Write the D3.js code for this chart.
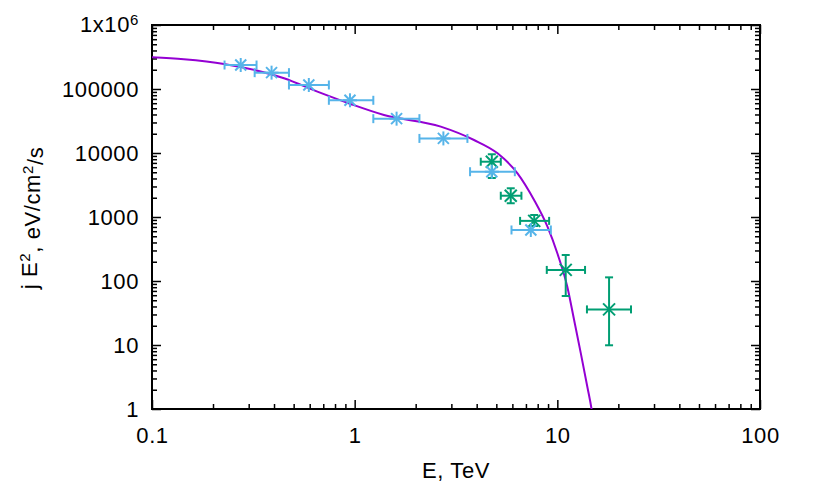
<!DOCTYPE html>
<html>
<head>
<meta charset="utf-8">
<script src="https://cdn.jsdelivr.net/npm/d3@7/dist/d3.min.js"></script>
<style>
  body { margin: 0; background: #fff; }
  text { font-family: "Liberation Sans", Arial, Helvetica, sans-serif; fill: #000; letter-spacing: 0.6px; }
</style>
</head>
<body>
<script>
// model curve
var curveE = [0.1, 0.1436, 0.2265, 0.448, 0.655, 0.955, 1.395, 2.66, 3.88, 5.07, 6.36, 7.68, 8.94, 10.0, 11.2, 12.1, 13.06, 14.1, 14.75, 15.2];
var curveY = [313000, 291000, 246000, 147000, 90800, 58300, 39200, 25800, 15960, 9890, 4820, 1845, 705, 271, 81.5, 24.6, 7.41, 2.13, 1.0, 0.5];

// blue points (x error bars only)
var blueE   = [0.274, 0.389, 0.594, 0.948, 1.61, 2.74, 4.75, 7.4];
var blueY   = [237000, 180000, 115500, 66600, 34400, 16900, 5100, 627];
var blueElo = [0.228, 0.321, 0.474, 0.746, 1.236, 2.087, 3.71, 5.94];
var blueEhi = [0.328, 0.474, 0.746, 1.236, 2.087, 3.60, 6.17, 9.29];

// green points (x and y error bars)
var greenE   = [4.75, 5.89, 7.69, 11.0, 18.0];
var greenY   = [7310, 2150, 870, 149, 36];
var greenElo = [4.19, 5.26, 6.55, 8.87, 14.0];
var greenEhi = [5.26, 6.65, 9.11, 13.7, 23.1];
var greenYlo = [4070, 1640, 724, 58.3, 9.9];
var greenYhi = [9550, 2810, 1075, 255, 114];

var xMajor = [0.1, 1, 10, 100];
var xLabels = ["0.1", "1", "10", "100"];
var yMajor = [1, 10, 100, 1000, 10000, 100000, 1000000];
var yLabels = ["1", "10", "100", "1000", "10000", "100000", "1x10^6"];

var W = 814, H = 488;
var L = 152, R = 760, T = 25, B = 409;
var fs = 22;

var svg = d3.select("body").append("svg").attr("width", W).attr("height", H);

var x = d3.scaleLog().domain([0.1, 100]).range([L, R]);
var y = d3.scaleLog().domain([1, 1e6]).range([B, T]);

var xMinor = x.ticks().filter(function(d){ return xMajor.indexOf(d) < 0; });
var yMinor = y.ticks().filter(function(d){ return yMajor.indexOf(d) < 0; });

function styleAxis(g){
  g.select(".domain").remove();
  g.selectAll(".tick line").attr("stroke", "#000").attr("stroke-width", 1.5);
  g.selectAll("text").style("font-size", fs + "px");
}

// bottom
svg.append("g").attr("transform", "translate(0," + B + ")")
  .call(d3.axisBottom(x).tickValues(xMajor).tickSizeInner(-9).tickSizeOuter(0).tickPadding(18)
    .tickFormat(function(d, i){ return xLabels[i]; }))
  .call(styleAxis);
svg.append("g").attr("transform", "translate(0," + B + ")")
  .call(d3.axisBottom(x).tickValues(xMinor).tickSizeInner(-5).tickSizeOuter(0).tickFormat(""))
  .call(styleAxis);
// top
svg.append("g").attr("transform", "translate(0," + T + ")")
  .call(d3.axisTop(x).tickValues(xMajor).tickSizeInner(-9).tickSizeOuter(0).tickFormat(""))
  .call(styleAxis);
svg.append("g").attr("transform", "translate(0," + T + ")")
  .call(d3.axisTop(x).tickValues(xMinor).tickSizeInner(-5).tickSizeOuter(0).tickFormat(""))
  .call(styleAxis);
// left
svg.append("g").attr("transform", "translate(" + L + ",0)")
  .call(d3.axisLeft(y).tickValues(yMajor).tickSizeInner(-9).tickSizeOuter(0).tickPadding(13)
    .tickFormat(function(d, i){ return i == yMajor.length - 1 ? "" : yLabels[i]; }))
  .call(styleAxis);
svg.append("g").attr("transform", "translate(" + L + ",0)")
  .call(d3.axisLeft(y).tickValues(yMinor).tickSizeInner(-5).tickSizeOuter(0).tickFormat(""))
  .call(styleAxis);
// right
svg.append("g").attr("transform", "translate(" + R + ",0)")
  .call(d3.axisRight(y).tickValues(yMajor).tickSizeInner(-9).tickSizeOuter(0).tickFormat(""))
  .call(styleAxis);
svg.append("g").attr("transform", "translate(" + R + ",0)")
  .call(d3.axisRight(y).tickValues(yMinor).tickSizeInner(-5).tickSizeOuter(0).tickFormat(""))
  .call(styleAxis);

// 1x10^6 label with superscript
var topLabel = svg.append("text").attr("x", L - 13).attr("y", y(1e6)).attr("dy", "0.32em")
  .attr("text-anchor", "end").style("font-size", fs + "px");
topLabel.append("tspan").text("1x10");
topLabel.append("tspan").attr("dy", "-0.45em").style("font-size", "15px").text("6");

// frame
svg.append("rect").attr("x", L).attr("y", T).attr("width", R - L).attr("height", B - T)
  .attr("fill", "none").attr("stroke", "#000").attr("stroke-width", 2);

// axis titles
svg.append("text").attr("x", (L + R) / 2).attr("y", 478).attr("text-anchor", "middle")
  .style("font-size", fs + "px").text("E, TeV");

var yt = svg.append("text").attr("transform", "translate(37,218) rotate(-90)")
  .attr("text-anchor", "middle").style("font-size", fs + "px");
yt.append("tspan").text("j E");
yt.append("tspan").attr("dy", "-0.45em").style("font-size", "15px").text("2");
yt.append("tspan").attr("dy", "0.45em").text(", eV/cm");
yt.append("tspan").attr("dy", "-0.45em").style("font-size", "15px").text("2");
yt.append("tspan").attr("dy", "0.45em").text("/s");

// clip
svg.append("clipPath").attr("id", "clip").append("rect")
  .attr("x", L).attr("y", T).attr("width", R - L).attr("height", B - T);
var plot = svg.append("g").attr("clip-path", "url(#clip)");

// curve
var line = d3.line()
  .x(function(d){ return x(d[0]); })
  .y(function(d){ return y(d[1]); })
  .curve(d3.curveMonotoneX);
plot.append("path").datum(d3.zip(curveE, curveY)).attr("d", line)
  .attr("fill", "none").attr("stroke", "#9400d3").attr("stroke-width", 2);

// green points
var green = "#009e73", blue = "#56b4e9";
var gg = plot.append("g").attr("stroke", green).attr("stroke-width", 2).attr("fill", "none");
greenE.forEach(function(e, i){
  var cx = x(e), cy = y(greenY[i]);
  var x0 = x(greenElo[i]), x1 = x(greenEhi[i]);
  var y0 = y(greenYlo[i]), y1 = y(greenYhi[i]);
  var c = 4;
  gg.append("line").attr("x1", x0).attr("x2", x1).attr("y1", cy).attr("y2", cy);
  gg.append("line").attr("x1", x0).attr("x2", x0).attr("y1", cy - c).attr("y2", cy + c);
  gg.append("line").attr("x1", x1).attr("x2", x1).attr("y1", cy - c).attr("y2", cy + c);
  gg.append("line").attr("x1", cx).attr("x2", cx).attr("y1", y0).attr("y2", y1);
  gg.append("line").attr("x1", cx - c).attr("x2", cx + c).attr("y1", y0).attr("y2", y0);
  gg.append("line").attr("x1", cx - c).attr("x2", cx + c).attr("y1", y1).attr("y2", y1);
  var m = 6;
  gg.append("line").attr("x1", cx - m).attr("x2", cx + m).attr("y1", cy - m).attr("y2", cy + m);
  gg.append("line").attr("x1", cx - m).attr("x2", cx + m).attr("y1", cy + m).attr("y2", cy - m);
});

// blue points
var bg = plot.append("g").attr("stroke", blue).attr("stroke-width", 2).attr("fill", "none");
blueE.forEach(function(e, i){
  var cx = x(e), cy = y(blueY[i]);
  var x0 = x(blueElo[i]), x1 = x(blueEhi[i]);
  var c = 4.5;
  bg.append("line").attr("x1", x0).attr("x2", x1).attr("y1", cy).attr("y2", cy);
  bg.append("line").attr("x1", x0).attr("x2", x0).attr("y1", cy - c).attr("y2", cy + c);
  bg.append("line").attr("x1", x1).attr("x2", x1).attr("y1", cy - c).attr("y2", cy + c);
  var m = 7, d = 5.5;
  bg.append("line").attr("x1", cx - m).attr("x2", cx + m).attr("y1", cy).attr("y2", cy);
  bg.append("line").attr("x1", cx).attr("x2", cx).attr("y1", cy - m).attr("y2", cy + m);
  bg.append("line").attr("x1", cx - d).attr("x2", cx + d).attr("y1", cy - d).attr("y2", cy + d);
  bg.append("line").attr("x1", cx - d).attr("x2", cx + d).attr("y1", cy + d).attr("y2", cy - d);
});
</script>
</body>
</html>
